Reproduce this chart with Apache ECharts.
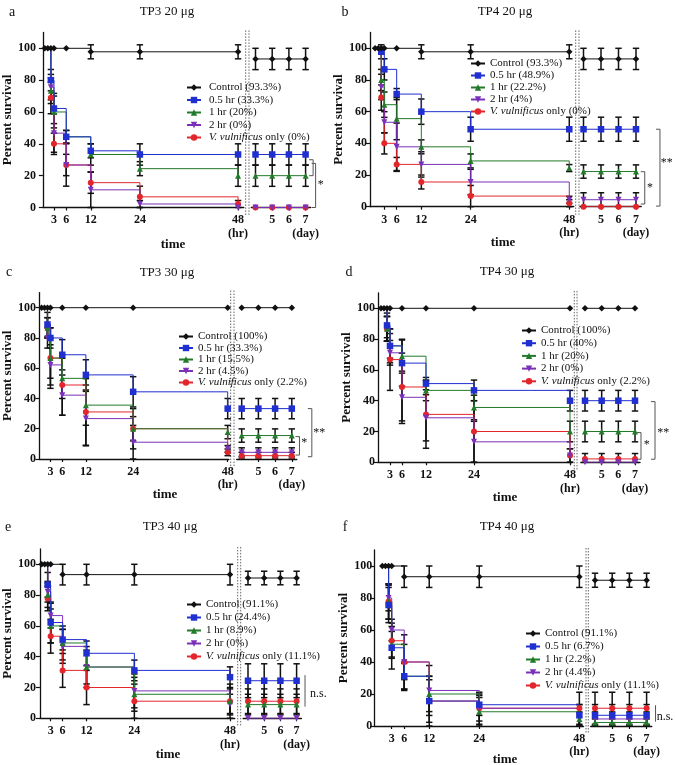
<!DOCTYPE html>
<html><head><meta charset="utf-8">
<script src="https://cdn.jsdelivr.net/npm/echarts@6/dist/echarts.min.js"></script>
<style>html,body{margin:0;padding:0;background:#fff}#c{width:675px;height:765px}</style>
</head><body><div id="c"></div>
<script>
// ---- time points ----
const hours = [0.75, 1.5, 2.25, 3, 6, 12, 24, 48];
const days = [4, 5, 6, 7];
const hourTicks = [3, 6, 12, 24, 48];
const dayTicks = [5, 6, 7];
const yTicks = [0, 20, 40, 60, 80, 100];
const groupBase = ['Control', '0.5 hr', '1 hr', '2 hr', 'V. vulnificus only'];

// ---- panel a: TP3 20 ug ----
const a_pct = ['93.3%', '33.3%', '20%', '0%', '0%'];
const a_ctrl = [100,100,100,100,100,97.8,97.8,97.8,93.3,93.3,93.3,93.3];
const a_ctrl_e = [0,0,0,0,0,4.4,4.4,4.4,6.7,6.7,6.7,6.7];
const a_h05 = [100,100,80,62.2,44.4,35.6,33.3,33.3,33.3,33.3,33.3,33.3];
const a_h05_e = [0,0,6.7,9.5,4,4.4,6.7,6.7,6.7,6.7,6.7,6.7];
const a_h1 = [100,100,73.3,60,44.4,33.3,24.4,20,20,20,20,20];
const a_h1_e = [0,0,8,10,4,6.7,4.4,6.7,6.7,6.7,6.7,6.7];
const a_h2 = [100,100,75.6,46.7,26.7,11.1,2.2,0,0,0,0,0];
const a_h2_e = [0,0,8,12,13.3,11.1,2.2,0,0,0,0,0];
const a_vv = [100,100,68.9,40,26.7,15.6,6.7,2.2,0,0,0,0];
const a_vv_e = [0,0,10,6.7,6.7,6.7,6.7,2.2,0,0,0,0];
const a_brk = [[7.45,30,20,1],[7.6,27.7,0,1]];
const a_sig = [[7.9,14,'*']];

// ---- panel b: TP4 20 ug ----
const b_pct = ['93.3%', '48.9%', '22.2%', '4%', '0%'];
const b_ctrl = [100,100,100,100,100,97.8,97.8,97.8,93.3,93.3,93.3,93.3];
const b_ctrl_e = [0,0,0,0,0,4.4,4.4,4.4,6.7,6.7,6.7,6.7];
const b_h05 = [100,100,97.8,86.7,71.1,60,48.9,48.9,48.9,48.9,48.9,48.9];
const b_h05_e = [0,0,4.4,6.7,3.5,8,7.6,7.6,7.6,7.6,7.6,7.6];
const b_h1 = [100,100,80,64.4,55.6,37.8,28.9,24.4,22.2,22.2,22.2,22.2];
const b_h1_e = [0,0,6.7,8,13.3,4.4,4.4,2.2,4.2,4.2,4.2,4.2];
const b_h2 = [100,100,75.6,53.3,37.8,26.7,15.6,4.4,4.4,4.4,4.4,4.4];
const b_h2_e = [0,0,8,6.7,15,8,8,2.2,4.4,4.4,4.4,4.4];
const b_vv = [100,100,68.9,40,26.7,15.6,6.7,2.2,0,0,0,0];
const b_vv_e = [0,0,8,6.7,4.4,4.4,6.7,2.2,0,0,0,0];
const b_brk = [[8.37,48.9,0.4,1],[7.5,22.1,1.7,1]];
const b_sig = [[8.75,27.4,'**'],[7.8,11.6,'*']];

// ---- panel c: TP3 30 ug ----
const c_pct = ['100%', '33.3%', '15.5%', '4.5%', '2.2%'];
const c_ctrl = [100,100,100,100,100,100,100,100,100,100,100,100];
const c_ctrl_e = [0,0,0,0,0,0,0,0,0,0,0,0];
const c_h05 = [100,100,88.9,80,68.9,55.6,44.4,33.3,33.3,33.3,33.3,33.3];
const c_h05_e = [0,0,8,6.7,10,10,10,6.7,6.7,6.7,6.7,6.7];
const c_h1 = [100,100,86.7,66.7,53.3,35.6,20,17.8,15.5,15.5,15.5,15.5];
const c_h1_e = [0,0,6.7,13.3,13.3,13.3,8,4.4,4.4,4.4,4.4,4.4];
const c_h2 = [100,100,80,62.2,42.2,26.7,11.1,6.7,4.4,4.4,4.4,4.4];
const c_h2_e = [0,0,6.7,13.3,13.3,18,11.1,2.2,3,3,3,3];
const c_vv = [100,100,86.7,66.7,48.9,31.1,20,4.4,2.2,2.2,2.2,2.2];
const c_vv_e = [0,0,6.7,20,20,22,13.3,2.2,2.2,2.2,2.2,2.2];
const c_brk = [[8.2,33.3,1.5,1],[7.46,14.8,2.6,1]];
const c_sig = [[8.65,17.4,'**'],[7.74,11,'*']];

// ---- panel d: TP4 30 ug ----
const d_pct = ['100%', '40%', '20%', '0%', '2.2%'];
const d_ctrl = [100,100,100,100,100,100,100,100,100,100,100,100];
const d_ctrl_e = [0,0,0,0,0,0,0,0,0,0,0,0];
const d_h05 = [100,100,88.9,75.6,64.4,51.1,46.7,40,40,40,40,40];
const d_h05_e = [0,0,8,11,15,4,6.7,6.7,6.7,6.7,6.7,6.7];
const d_h1 = [100,100,86.7,75.6,68.9,46.7,35.6,20,20,20,20,20];
const d_h1_e = [0,0,8,8,11,6.7,8,6.7,6.7,6.7,6.7,6.7];
const d_h2 = [100,100,86.7,71.1,42.2,28.9,13.3,4.4,0,0,0,0];
const d_h2_e = [0,0,8,8,17,15,13.3,4.4,0,0,0,0];
const d_vv = [100,100,86.7,66.7,48.9,31.1,20,4.4,2.2,2.2,2.2,2.2];
const d_vv_e = [0,0,8,20,22,22,20,4.4,3.5,3.5,3.5,3.5];
const d_brk = [[8.2,39.4,2,1],[7.36,19.3,2,1]];
const d_sig = [[8.7,19.3,'**'],[7.7,11.3,'*']];

// ---- panel e: TP3 40 ug ----
const e_pct = ['91.1%', '24.4%', '8.9%', '0%', '11.1%'];
const e_ctrl = [100,100,100,100,93.3,93.3,93.3,93.3,91.1,91.1,91.1,91.1];
const e_ctrl_e = [0,0,0,0,6.7,6.7,6.7,6.7,4.4,4.4,4.4,4.4];
const e_h05 = [100,100,86.7,62.2,51.1,42.2,31.1,26.7,24.4,24.4,24.4,24.4];
const e_h05_e = [0,0,8,13.3,6.7,8,6.7,6.7,11,11,11,11];
const e_h1 = [100,100,80,60,48.9,33.3,15.6,11.1,8.9,8.9,8.9,8.9];
const e_h1_e = [0,0,8,11,11,11,11,8,6.7,6.7,6.7,6.7];
const e_h2 = [100,100,82.2,66.7,46.7,33.3,17.8,8.9,0,0,0,0];
const e_h2_e = [0,0,6.7,8,11,13.3,11,6.7,0,0,0,0];
const e_vv = [100,100,77.8,53.3,31.1,20,11.1,11.1,11.1,11.1,11.1,11.1];
const e_vv_e = [0,0,8,11,11,11.1,11.1,11.1,8,8,8,8];
const e_brk = [[7.52,28,7.6,0]];
const e_sig = [[8.34,16.2,'n.s.']];

// ---- panel f: TP4 40 ug ----
const f_pct = ['91.1%', '6.7%', '2.2%', '4.4%', '11.1%'];
const f_ctrl = [100,100,100,100,93.3,93.3,93.3,93.3,91.1,91.1,91.1,91.1];
const f_ctrl_e = [0,0,0,0,6.7,6.7,6.7,6.7,4.4,4.4,4.4,4.4];
const f_h05 = [100,100,75.6,48.9,31.1,15.6,13.3,6.7,6.7,6.7,6.7,6.7];
const f_h05_e = [0,0,11,13.3,8.9,15.6,6.7,6.7,6.7,6.7,6.7,6.7];
const f_h1 = [100,100,77.8,51.1,31.1,20,8.9,4.4,2.2,2.2,2.2,2.2];
const f_h1_e = [0,0,11,8,8,11,8.9,4.4,2.2,2.2,2.2,2.2];
const f_h2 = [100,100,80,60,40,22.2,11.1,6.7,4.4,4.4,4.4,4.4];
const f_h2_e = [0,0,8,6.7,17,15.6,8,6.7,4.4,4.4,4.4,4.4];
const f_vv = [100,100,77.8,53.3,40,15.6,11.1,11.1,11.1,11.1,11.1,11.1];
const f_vv_e = [0,0,11,11,11,13.3,10,10,10,10,10,10];
const f_brk = [[7.52,13,2.7,0]];
const f_sig = [[8.07,5.8,'n.s.']];

const panels = [
  {letter:'a', title:'TP3 20 μg', pct:a_pct, vals:[a_ctrl,a_h05,a_h1,a_h2,a_vv], errs:[a_ctrl_e,a_h05_e,a_h1_e,a_h2_e,a_vv_e], brk:a_brk, sig:a_sig},
  {letter:'b', title:'TP4 20 μg', pct:b_pct, vals:[b_ctrl,b_h05,b_h1,b_h2,b_vv], errs:[b_ctrl_e,b_h05_e,b_h1_e,b_h2_e,b_vv_e], brk:b_brk, sig:b_sig},
  {letter:'c', title:'TP3 30 μg', pct:c_pct, vals:[c_ctrl,c_h05,c_h1,c_h2,c_vv], errs:[c_ctrl_e,c_h05_e,c_h1_e,c_h2_e,c_vv_e], brk:c_brk, sig:c_sig},
  {letter:'d', title:'TP4 30 μg', pct:d_pct, vals:[d_ctrl,d_h05,d_h1,d_h2,d_vv], errs:[d_ctrl_e,d_h05_e,d_h1_e,d_h2_e,d_vv_e], brk:d_brk, sig:d_sig},
  {letter:'e', title:'TP3 40 μg', pct:e_pct, vals:[e_ctrl,e_h05,e_h1,e_h2,e_vv], errs:[e_ctrl_e,e_h05_e,e_h1_e,e_h2_e,e_vv_e], brk:e_brk, sig:e_sig},
  {letter:'f', title:'TP4 40 μg', pct:f_pct, vals:[f_ctrl,f_h05,f_h1,f_h2,f_vv], errs:[f_ctrl_e,f_h05_e,f_h1_e,f_h2_e,f_vv_e], brk:f_brk, sig:f_sig}
];

// ---- layout (pixels) ----
const layout = [
 {x0:38.5, pxH:4.156, hMin:0.3, hMax:49.4, y100:48.3, y0:207.5, d4:255.5, pxD:16.7, dMin:3.75, dMax:7.3, br:[245.7,249], lab:[12,12], tit:[167,12], time:[173,245], yLabM:7, yNameGap:23, leg:[186,82,1.5,3]},
 {x0:372, pxH:4.11, hMin:-0.5, hMax:49.1, y100:48.3, y0:206.7, d4:583.5, pxD:17.5, dMin:3.8, dMax:7.3, br:[575.7,579], lab:[345,12], tit:[505,12], time:[503,243], yLabM:3, yNameGap:17, leg:[470,58,1,0]},
 {x0:37.4, pxH:3.964, hMin:0.2, hMax:48.3, y100:307.7, y0:459, d4:241.7, pxD:16.7, dMin:3.7, dMax:7.3, br:[230.7,234], lab:[9,272], tit:[167,273], time:[165,495], yLabM:3.5, yNameGap:22, leg:[178,331,0.5,0]},
 {x0:378, pxH:4.0, hMin:0, hMax:48.5, y100:308.3, y0:462.3, d4:585, pxD:16.67, dMin:3.75, dMax:7.3, br:[574.3,577], lab:[349,272], tit:[507,272], time:[505,498], yLabM:3, yNameGap:21, leg:[521,325,1.7,0]},
 {x0:38, pxH:4.0, hMin:0.3, hMax:49.2, y100:564.3, y0:718.3, d4:248, pxD:16.2, dMin:3.7, dMax:7.3, br:[237.7,240.7], lab:[8,527], tit:[170,527], time:[168,755], yLabM:4, yNameGap:25, leg:[186,599,2,0]},
 {x0:379.2, pxH:4.17, hMin:-1.2, hMax:49, y100:566, y0:726, d4:595, pxD:17.2, dMin:3.75, dMax:7.3, br:[586,588.3], lab:[345,527], tit:[507,527], time:[505,760], yLabM:2, yNameGap:20, leg:[525,628,2,0]}
];

const FONT = '"Liberation Serif", "Times New Roman", serif';
const colors = ['#111111', '#1f2fd0', '#237a2a', '#7a30b8', '#e3262c'];
const symbols = ['diamond', 'rect', 'triangle', 'triangle', 'circle'];
const rotations = [0, 0, 0, 180, 0];
const sizes = [6.5, 6.5, 6, 6, 6];
const drawOrder = [4, 3, 2, 1, 0];

function renderErr(params, api) {
  const x = api.value(0), lo = api.value(1), hi = api.value(2);
  const p1 = api.coord([x, hi]), p2 = api.coord([x, lo]);
  const w = 3.2;
  const st = {stroke: '#111', lineWidth: 1.5};
  return {type: 'group', children: [
    {type: 'line', shape: {x1: p1[0], y1: p1[1], x2: p2[0], y2: p2[1]}, style: st},
    {type: 'line', shape: {x1: p1[0] - w, y1: p1[1], x2: p1[0] + w, y2: p1[1]}, style: st},
    {type: 'line', shape: {x1: p2[0] - w, y1: p2[1], x2: p2[0] + w, y2: p2[1]}, style: st}
  ]};
}
function renderBrk(params, api) {
  const x = api.value(0), y1 = api.value(1), y2 = api.value(2), tk = api.value(3);
  const p1 = api.coord([x, y1]), p2 = api.coord([x, y2]);
  const st = {stroke: '#555', lineWidth: 1};
  const ch = [{type: 'line', shape: {x1: p1[0], y1: p1[1], x2: p2[0], y2: p2[1]}, style: st}];
  if (tk) {
    ch.push({type: 'line', shape: {x1: p1[0] - 4, y1: p1[1], x2: p1[0], y2: p1[1]}, style: st});
    ch.push({type: 'line', shape: {x1: p2[0] - 4, y1: p2[1], x2: p2[0], y2: p2[1]}, style: st});
  }
  return {type: 'group', children: ch};
}

const grid = [], xAxis = [], yAxis = [], series = [], legend = [], graphic = [];
const axLine = {show: true, onZero: false, lineStyle: {color: '#111', width: 1.3}};
const tickSt = {color: '#111', width: 1.2};
const labSt = {fontFamily: FONT, fontWeight: 'bold', fontSize: 12, color: '#111'};

panels.forEach((P, i) => {
  const L = layout[i];
  const pxY = (L.y0 - L.y100) / 100;
  const top = L.y0 - 110 * pxY, h = 110 * pxY;
  grid.push({left: L.x0 + L.hMin * L.pxH, top: top, width: (L.hMax - L.hMin) * L.pxH, height: h});
  grid.push({left: L.d4 + (L.dMin - 4) * L.pxD, top: top, width: (L.dMax - L.dMin) * L.pxD, height: h});
  const gh = 2 * i, gd = 2 * i + 1;
  xAxis.push({type: 'value', gridIndex: gh, min: L.hMin, max: L.hMax, axisLine: axLine,
    axisTick: {show: true, customValues: hourTicks, length: 3, lineStyle: tickSt},
    axisLabel: Object.assign({customValues: hourTicks, margin: 6, lineHeight: 13.5,
      formatter: v => v === 48 ? '48\n(hr)' : String(v)}, labSt),
    splitLine: {show: false}});
  xAxis.push({type: 'value', gridIndex: gd, min: L.dMin, max: L.dMax, axisLine: axLine,
    axisTick: {show: true, customValues: dayTicks, length: 3, lineStyle: tickSt},
    axisLabel: Object.assign({customValues: dayTicks, margin: 6, lineHeight: 13.5,
      formatter: v => v === 7 ? '7\n(day)' : String(v)}, labSt),
    splitLine: {show: false}});
  yAxis.push({type: 'value', gridIndex: gh, min: 0, max: 110, axisLine: axLine,
    axisTick: {show: true, customValues: yTicks, length: 4, lineStyle: tickSt},
    axisLabel: Object.assign({customValues: yTicks, margin: L.yLabM}, labSt),
    splitLine: {show: false},
    name: 'Percent survival', nameLocation: 'middle', nameGap: L.yNameGap,
    nameTextStyle: {fontFamily: FONT, fontWeight: 'bold', fontSize: 13, color: '#111'}});
  yAxis.push({type: 'value', gridIndex: gd, min: 0, max: 110, show: false});

  const names = groupBase.map((g, k) => g + ' (' + P.pct[k] + ')');
  const errH = [], errD = [];
  drawOrder.forEach(g => {
    const v = P.vals[g], e = P.errs[g];
    const common = {type: 'line', name: names[g], step: 'end', symbol: symbols[g], symbolRotate: rotations[g],
      symbolSize: (val) => (g > 0 && val[1] === 100) ? 0 : sizes[g],
      itemStyle: {color: colors[g]}, lineStyle: {color: colors[g], width: 1},
      z: g === 0 ? 4 : 3, silent: true, emphasis: {disabled: true}, animation: false};
    series.push(Object.assign({}, common, {xAxisIndex: gh, yAxisIndex: gh, data: hours.map((t, k) => [t, v[k]])}));
    series.push(Object.assign({}, common, {xAxisIndex: gd, yAxisIndex: gd, data: days.map((t, k) => [t, v[8 + k]])}));
    hours.forEach((t, k) => { if (e[k] > 0) errH.push([t, Math.max(0, v[k] - e[k]), v[k] + e[k]]); });
    days.forEach((t, k) => { if (e[8 + k] > 0) errD.push([t, Math.max(0, v[8 + k] - e[8 + k]), v[8 + k] + e[8 + k]]); });
  });
  series.push({type: 'custom', xAxisIndex: gh, yAxisIndex: gh, renderItem: renderErr, data: errH, z: 2, silent: true, clip: false, animation: false});
  series.push({type: 'custom', xAxisIndex: gd, yAxisIndex: gd, renderItem: renderErr, data: errD, z: 2, silent: true, clip: false, animation: false});
  series.push({type: 'custom', xAxisIndex: gd, yAxisIndex: gd, renderItem: renderBrk, data: P.brk, z: 2, silent: true, clip: false, animation: false});
  const sig = P.sig;
  series.push({type: 'custom', xAxisIndex: gd, yAxisIndex: gd, data: sig.map(s => [s[0], s[1]]), z: 2, silent: true, clip: false, animation: false,
    renderItem: (params, api) => {
      const p = api.coord([api.value(0), api.value(1)]);
      return {type: 'text', x: p[0], y: p[1], style: {text: sig[params.dataIndex][2], fill: '#111',
        font: '12px ' + FONT, align: 'center', verticalAlign: 'middle'}};
    }});

  legend.push({orient: 'vertical', left: L.leg[0], top: L.leg[1], itemGap: L.leg[2], itemWidth: 14, itemHeight: 8,
    padding: 0, selectedMode: false, data: names,
    formatter: n => n.indexOf('V. vulnificus') === 0 ? '{i|V. vulnificus}' + n.slice(13) : n,
    textStyle: {fontFamily: FONT, fontSize: 11, color: '#111', lineHeight: 10, padding: [0, 0, 0, L.leg[3]],
      rich: {i: {fontFamily: FONT, fontSize: 11, fontStyle: 'italic', color: '#111', lineHeight: 10}}}});

  graphic.push({type: 'text', x: L.lab[0], y: L.lab[1], style: {text: P.letter, fill: '#111', font: '14px ' + FONT, align: 'center', verticalAlign: 'middle'}});
  graphic.push({type: 'text', x: L.tit[0], y: L.tit[1], style: {text: P.title, fill: '#111', font: '13px ' + FONT, align: 'center', verticalAlign: 'middle'}});
  graphic.push({type: 'text', x: L.time[0], y: L.time[1], style: {text: 'time', fill: '#111', font: 'bold 13px ' + FONT, align: 'center', verticalAlign: 'middle'}});
  L.br.forEach(bx => graphic.push({type: 'line', shape: {x1: bx, y1: top - 2, x2: bx, y2: L.y0 + 8},
    style: {stroke: '#666', lineWidth: 1, lineDash: [1.5, 1.5]}}));
});

const chart = echarts.init(document.getElementById('c'), null, {renderer: 'canvas'});
chart.setOption({backgroundColor: '#fff', animation: false, grid, xAxis, yAxis, series, legend, graphic});
</script>
</body></html>
